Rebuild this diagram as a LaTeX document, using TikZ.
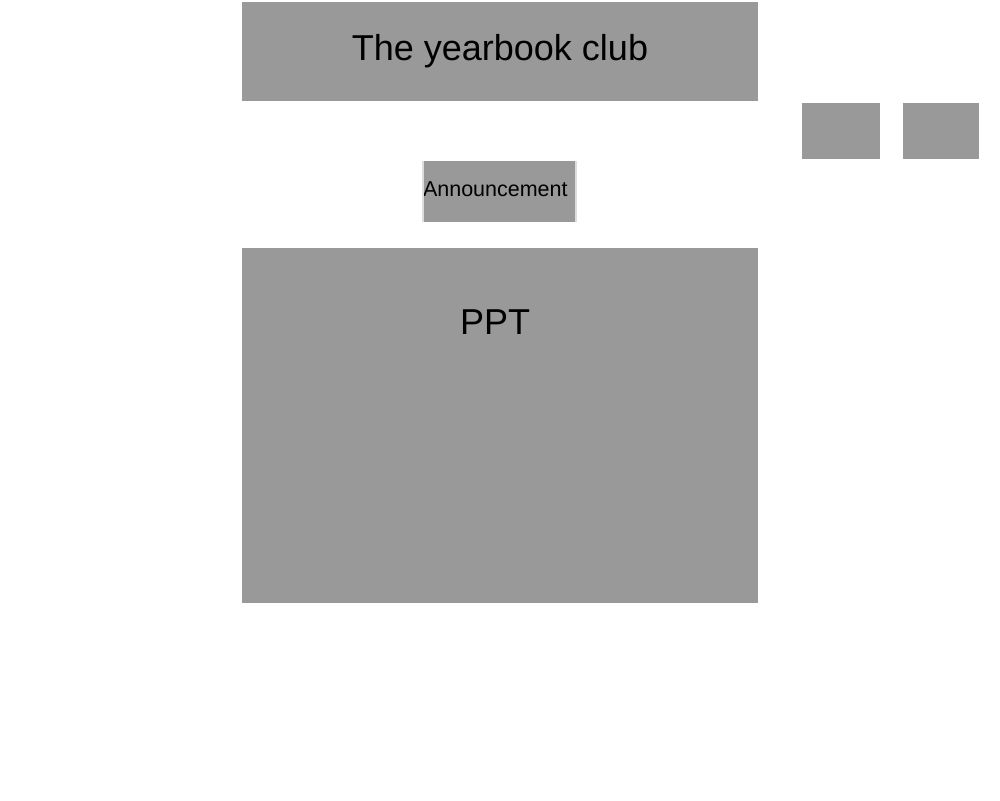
\documentclass[tikz,border=0pt]{standalone}
\usepackage{fontspec}
\setmainfont{Liberation Sans}
\definecolor{boxgray}{HTML}{999999}
\definecolor{edgegray}{HTML}{DDDDDD}
\begin{document}
\begin{tikzpicture}[x=1pt,y=-1pt,
  panel/.style={fill=boxgray, draw=none, inner sep=0pt, anchor=north west},
  bigtext/.style={font=\fontsize{36}{40}\selectfont, text=black, inner sep=0pt}]
\useasboundingbox (0,0) rectangle (1000,800);
% title
\node[panel, minimum width=516pt, minimum height=99pt] (title) at (242,2) {};
\node[bigtext] (titletext) at (500,51) {The yearbook club};
% small boxes
\node[panel, minimum width=78pt, minimum height=56pt] (sq1) at (802,103) {};
\node[panel, minimum width=76pt, minimum height=56pt] (sq2) at (903,103) {};
% announcement
\node[fill=boxgray, draw=none, text width=153pt, align=left,
  text height=15pt, text depth=5pt,
  inner xsep=0pt, inner ysep=0pt, minimum height=61pt, anchor=center,
  font=\fontsize{21.5}{24}\selectfont] (ann) at (499.5,191.5) {Announcement};
\draw[edgegray, line width=2pt] (ann.north west) -- (ann.south west)
  (ann.north east) -- (ann.south east);
% PPT
\node[panel, minimum width=516pt, minimum height=355pt] (ppt) at (242,248) {};
\node[bigtext] (ppttext) at (495,322.5) {PPT};
\end{tikzpicture}
\end{document}
